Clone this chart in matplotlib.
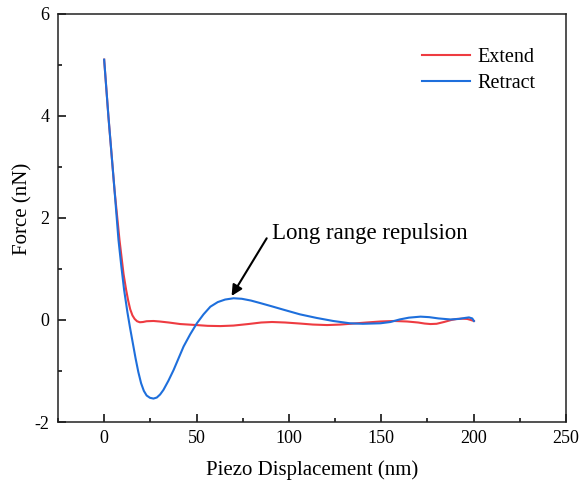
import matplotlib
matplotlib.use("Agg")
import matplotlib.pyplot as plt
from matplotlib.ticker import MultipleLocator

plt.rcParams['font.family'] = ['Liberation Serif', 'DejaVu Serif']
plt.rcParams['axes.unicode_minus'] = False

# Extend curve (red)
ext_x = [0, 2.3, 5.6, 8.3, 10.5, 11.9, 13.0, 14.1, 15.3, 16.5, 17.8, 19.3, 21.0, 23.0, 26.7,
         30, 35, 41.2, 50, 56, 62.9, 70, 78, 85, 90.9, 98, 106, 113, 120.7, 128, 135,
         142, 149.6, 157, 164, 170, 173.5, 176.7, 180, 184, 188, 191, 194, 196.6, 198.5, 200.2]
ext_y = [5.10, 3.99, 2.55, 1.57, 0.90, 0.59, 0.38, 0.21, 0.09, 0.02, -0.025, -0.045, -0.04, -0.025, -0.02,
         -0.03, -0.05, -0.08, -0.10, -0.115, -0.12, -0.11, -0.08, -0.05, -0.04, -0.05, -0.07, -0.09, -0.10, -0.09, -0.07,
         -0.05, -0.03, -0.02, -0.03, -0.05, -0.07, -0.08, -0.075, -0.04, 0.00, 0.02, 0.025, 0.02, 0.00, -0.02]

# Retract curve (blue)
ret_x = [0, 2.3, 5.6, 7.75, 9.3, 10.8, 12.6, 14.0, 15.5, 17.0, 18.5, 20.0, 21.5, 23.0, 24.8, 26.7,
         28.5, 30.3, 32.1, 34.8, 37.6, 40.3, 43.0, 46.6, 50.2, 53.8, 57.5, 61.5, 65.5, 70.1, 74.5, 79.5,
         84.6, 90.5, 97.2, 106, 115, 124, 133, 140, 149.6, 155, 160, 165, 171.3, 176, 181, 187.5,
         192, 195.5, 197.5, 199.3, 200.2]
ret_y = [5.10, 3.99, 2.55, 1.57, 1.05, 0.59, 0.15, -0.15, -0.45, -0.75, -1.02, -1.24, -1.39, -1.48, -1.525, -1.54,
         -1.52, -1.46, -1.37, -1.19, -0.98, -0.75, -0.52, -0.28, -0.065, 0.11, 0.26, 0.35, 0.40, 0.425, 0.415, 0.38,
         0.33, 0.27, 0.20, 0.11, 0.04, -0.02, -0.065, -0.075, -0.065, -0.04, 0.01, 0.045, 0.065, 0.055, 0.03, 0.01,
         0.02, 0.04, 0.05, 0.03, -0.02]

xticks = [0, 50, 100, 150, 200, 250]
yticks = [-2, 0, 2, 4, 6]

fig = plt.figure(figsize=(5.81, 4.84), dpi=100)
ax = fig.add_axes([0.0998, 0.128, 0.8742, 0.8437])

ax.plot(ext_x, ext_y, color='#EE3B41', lw=1.5, label='Extend')
ax.plot(ret_x, ret_y, color='#1E6FDC', lw=1.5, label='Retract')

ax.set_xlim(-25, 250)
ax.set_ylim(-2, 6)
ax.set_xticks(xticks)
ax.set_yticks(yticks)
ax.xaxis.set_minor_locator(MultipleLocator(25))
ax.yaxis.set_minor_locator(MultipleLocator(1))
ax.tick_params(which='major', direction='in', length=5.5, width=1.1, labelsize=13,
               top=False, right=False, pad=6)
ax.tick_params(which='minor', direction='in', length=3, width=1.1, top=False, right=False)
for s in ax.spines.values():
    s.set_linewidth(1.1)
    s.set_color('#222222')

ax.set_xlabel('Piezo Displacement (nm)', fontsize=15, labelpad=9)
ax.set_ylabel('Force (nN)', fontsize=15, va='center')
ax.yaxis.set_label_coords(-0.07, 0.522)

ax.legend(loc='upper right', bbox_to_anchor=(0.975, 0.96), frameon=False, fontsize=14.5,
          handlelength=2.4, handletextpad=0.35, labelspacing=0.35)

ax.annotate('', xy=(69, 0.47), xytext=(88, 1.6),
            arrowprops=dict(arrowstyle='-|>', color='black', lw=1.5, mutation_scale=16,
                            shrinkA=0, shrinkB=0))
ax.text(90.7, 1.69, 'Long range repulsion', fontsize=16.5, va='center', ha='left')

fig.savefig('out.png', dpi=100)
